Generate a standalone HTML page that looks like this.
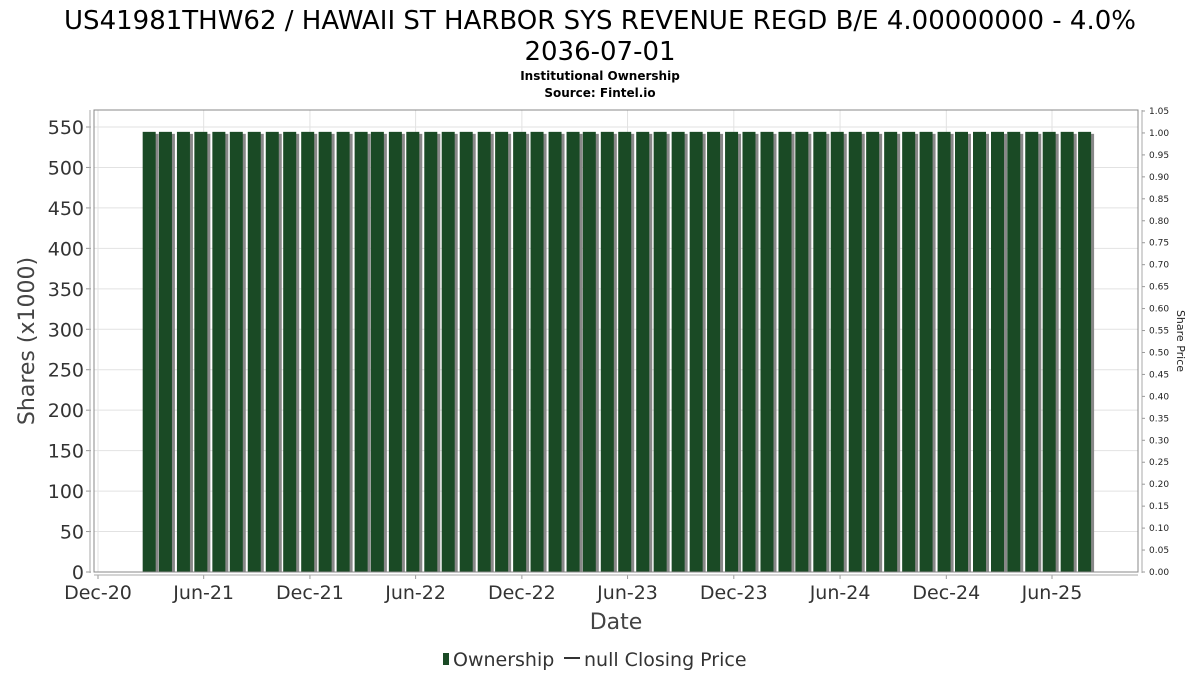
<!DOCTYPE html>
<html><head><meta charset="utf-8"><style>
body{margin:0;background:#fff;font-family:"DejaVu Sans","Liberation Sans",sans-serif}
svg{display:block}
</style></head><body>
<svg id="chart" width="1200" height="675" xmlns="http://www.w3.org/2000/svg">
<text x="600" y="29" text-anchor="middle" font-size="26" fill="#000">US41981THW62 / HAWAII ST HARBOR SYS REVENUE REGD B/E 4.00000000 - 4.0%</text>
<text x="600" y="60" text-anchor="middle" font-size="26" fill="#000">2036-07-01</text>
<text x="600" y="80" text-anchor="middle" font-size="12" font-weight="bold">Institutional Ownership</text>
<text x="600" y="97" text-anchor="middle" font-size="12" font-weight="bold">Source: Fintel.io</text>
<g id="grid"></g>
<g id="bars"></g>
<rect x="94" y="110" width="1044" height="462" fill="none" stroke="#888" stroke-width="1"/>
<g id="axes"></g>
<text x="34" y="341" text-anchor="middle" font-size="22" fill="#444" transform="rotate(-90 34 341)">Shares (x1000)</text>
<text x="1177" y="341" text-anchor="middle" font-size="11" fill="#222" transform="rotate(90 1177 341)">Share Price</text>
<text x="616" y="629" text-anchor="middle" font-size="22" fill="#444">Date</text>
<g>
<rect x="443" y="653" width="6" height="12" fill="#1a4a25"/>
<text x="453" y="666" font-size="19" fill="#333">Ownership</text>
<line x1="564" y1="658" x2="580" y2="658" stroke="#333" stroke-width="2"/>
<text x="584" y="666" font-size="19" fill="#333">null Closing Price</text>
</g>
</svg>
<script>
const barDates=["2021-02-28","2021-03-28","2021-04-28","2021-05-28","2021-06-28","2021-07-28","2021-08-28","2021-09-28","2021-10-28","2021-11-28","2021-12-28","2022-01-28","2022-02-28","2022-03-28","2022-04-28","2022-05-28","2022-06-28","2022-07-28","2022-08-28","2022-09-28","2022-10-28","2022-11-28","2022-12-28","2023-01-28","2023-02-28","2023-03-28","2023-04-28","2023-05-28","2023-06-28","2023-07-28","2023-08-28","2023-09-28","2023-10-28","2023-11-28","2023-12-28","2024-01-28","2024-02-28","2024-03-28","2024-04-28","2024-05-28","2024-06-28","2024-07-28","2024-08-28","2024-09-28","2024-10-28","2024-11-28","2024-12-28","2025-01-28","2025-02-28","2025-03-28","2025-04-28","2025-05-28","2025-06-28","2025-07-28"];
const shares=[544,544,544,544,544,544,544,544,544,544,544,544,544,544,544,544,544,544,544,544,544,544,544,544,544,544,544,544,544,544,544,544,544,544,544,544,544,544,544,544,544,544,544,544,544,544,544,544,544,544,544,544,544,544];
const yTicks=[0,50,100,150,200,250,300,350,400,450,500,550];
const y2Ticks=["0.00","0.05","0.10","0.15","0.20","0.25","0.30","0.35","0.40","0.45","0.50","0.55","0.60","0.65","0.70","0.75","0.80","0.85","0.90","0.95","1.00","1.05"];
const xTickDates=["2020-12-01","2021-06-01","2021-12-01","2022-06-01","2022-12-01","2023-06-01","2023-12-01","2024-06-01","2024-12-01","2025-06-01"];
const xTickLabels=["Dec-20","Jun-21","Dec-21","Jun-22","Dec-22","Jun-23","Dec-23","Jun-24","Dec-24","Jun-25"];
const NS="http://www.w3.org/2000/svg";
const t0=Date.parse("2020-12-01"),t1=Date.parse("2025-06-01");
function xs(d){return 98+(Date.parse(d)-t0)/(t1-t0)*954;}
function ys(v){return 572-v*(445/550);}
function y2s(v){return 572-v*(461/1.05);}
function mk(tag,attrs,parent){const e=document.createElementNS(NS,tag);for(const k in attrs)e.setAttribute(k,attrs[k]);parent.appendChild(e);return e;}
const grid=document.getElementById('grid'),bars=document.getElementById('bars'),axes=document.getElementById('axes');
yTicks.forEach(v=>{
 const l=mk('line',{x1:94,x2:1138,y1:ys(v),y2:ys(v),stroke:'#e2e2e2'},grid);
 
 
 const tk=mk('line',{x1:86,x2:91,y1:ys(v),y2:ys(v),stroke:'#999'},axes);
 
 
 const t=mk('text',{x:84,y:ys(v)+7,'text-anchor':'end','font-size':19,fill:'#333'},axes);
 t.textContent=v;
 
 
});
xTickDates.forEach((d,i)=>{
 const x=xs(d);
 const l=mk('line',{x1:x,x2:x,y1:110,y2:572,stroke:'#e2e2e2'},grid);
 
 
 const tk=mk('line',{x1:x,x2:x,y1:575,y2:579,stroke:'#999'},axes);
 
 
 const t=mk('text',{x:x,y:599,'text-anchor':'middle','font-size':19,fill:'#333'},axes);
 t.textContent=xTickLabels[i];
 
 
});
const ax=mk('line',{x1:90,x2:90,y1:110,y2:573,stroke:'#aaa'},axes);


const bx=mk('line',{x1:94,x2:1138,y1:575,y2:575,stroke:'#aaa'},axes);


const rx=mk('line',{x1:1142,x2:1142,y1:110,y2:573,stroke:'#aaa'},axes);


y2Ticks.forEach(s=>{
 const y=y2s(parseFloat(s));
 const tk=mk('line',{x1:1142,x2:1145,y1:y,y2:y,stroke:'#999'},axes);
 
 
 const t=mk('text',{x:1149,y:y+3,'font-size':9,fill:'#222'},axes);
 t.textContent=s;
 
 
});
barDates.forEach((d,i)=>{
 const cx=xs(d),top=ys(shares[i]);
 const sh=mk('rect',{x:cx-4,y:top+2,width:13,height:572-top-2,fill:'#888'},bars);
 
 
 const r=mk('rect',{x:cx-7,y:top,width:13,height:572-top,fill:'#1a4a25'},bars);
 
 
});
</script>
</body></html>
